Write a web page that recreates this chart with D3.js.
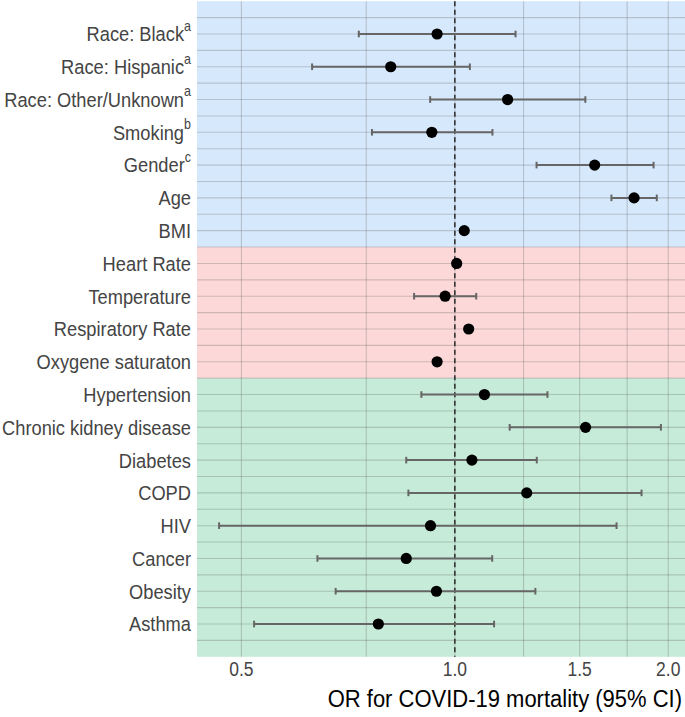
<!DOCTYPE html>
<html>
<head>
<meta charset="utf-8">
<script src="https://cdn.jsdelivr.net/npm/d3@7"></script>
<style>
html,body{margin:0;padding:0;background:#fff;}
svg{display:block;font-family:"Liberation Sans",Arial,Helvetica,sans-serif;}
</style>
</head>
<body>
<svg id="chart" width="685" height="717"></svg>
<script>
// ---- data ----
const labels = ["Race: Black","Race: Hispanic","Race: Other/Unknown","Smoking","Gender","Age","BMI",
  "Heart Rate","Temperature","Respiratory Rate","Oxygene saturaton",
  "Hypertension","Chronic kidney disease","Diabetes","COPD","HIV","Cancer","Obesity","Asthma"];
const superscripts = ["a","a","a","b","c","","","","","","","","","","","","","",""];
const groups = ["demo","demo","demo","demo","demo","demo","demo",
  "vital","vital","vital","vital",
  "comorb","comorb","comorb","comorb","comorb","comorb","comorb","comorb"];
const oddsRatio = [0.944,0.812,1.187,0.928,1.575,1.790,1.031,1.006,0.969,1.046,0.944,1.101,1.529,1.057,1.263,0.924,0.854,0.942,0.780];
const ciLow  = [0.732,0.629,0.923,0.764,1.304,1.663,1.021,1.000,0.876,1.036,0.936,0.897,1.195,0.854,0.860,0.465,0.640,0.679,0.521];
const ciHigh = [1.218,1.050,1.528,1.130,1.907,1.927,1.041,1.012,1.072,1.056,0.952,1.351,1.953,1.305,1.834,1.691,1.129,1.299,1.136];
const groupNames = ["demo","vital","comorb"];
const groupColors = ["#d6e8fb","#fdd8d8","#c6ebd8"];
const xTicks = [0.5,1.0,1.5,2.0];
const xMinor = [0.75,1.25,1.75];
const xTitle = "OR for COVID-19 mortality (95% CI)";

// ---- layout ----
const svg = d3.select("#chart");
const pLeft = 197, pRight = 683, pTop = 1.2, pBottom = 656.8;
const stretch = 1.12;

const lo = d3.min(ciLow), hi = d3.max(ciHigh);
const span = Math.log(hi/lo);
const x = d3.scaleLog()
  .domain([lo*Math.exp(-0.05*span), hi*Math.exp(0.05*span)])
  .range([pLeft, pRight]);
const y = d3.scalePoint().domain(labels).range([pTop, pBottom]).padding(1);
const step = y.step();

const rows = labels.map((l,i)=>({label:l,sup:superscripts[i],group:groups[i],or:oddsRatio[i],lo:ciLow[i],hi:ciHigh[i]}));

// background rects per group
const gColor = d3.scaleOrdinal().domain(groupNames).range(groupColors);
const bands = groupNames.map(g=>{
  const r = rows.filter(d=>d.group===g);
  return {g, y0:y(r[0].label)-step/2, y1:y(r[r.length-1].label)+step/2};
});
bands[0].y0 = pTop; bands[bands.length-1].y1 = pBottom;
svg.append("g").selectAll("rect").data(bands).join("rect")
  .attr("x", pLeft).attr("width", pRight-pLeft+2)
  .attr("y", d=>d.y0).attr("height", d=>d.y1-d.y0)
  .attr("fill", d=>gColor(d.g));

// grid
const grid = svg.append("g").attr("stroke","rgba(90,90,90,0.27)").attr("stroke-width",1.1);
const hLines = [];
labels.forEach(l=>{ hLines.push(y(l)); hLines.push(y(l)+step/2); });
hLines.push(y(labels[0])-step/2);
grid.selectAll("line.h").data(hLines).join("line").attr("class","h")
  .attr("x1",pLeft).attr("x2",pRight+2).attr("y1",d=>d).attr("y2",d=>d);
grid.selectAll("line.v").data(xTicks.concat(xMinor)).join("line").attr("class","v")
  .attr("x1",d=>x(d)).attr("x2",d=>x(d)).attr("y1",pTop).attr("y2",pBottom);

// reference line at 1
svg.append("line")
  .attr("x1",x(1)).attr("x2",x(1)).attr("y1",pTop).attr("y2",pBottom)
  .attr("stroke","#333").attr("stroke-width",1.6).attr("stroke-dasharray","5,3.5");

// error bars
const eb = svg.append("g").attr("stroke","#666").attr("stroke-width",2).attr("fill","none");
eb.selectAll("line.bar").data(rows).join("line").attr("class","bar")
  .attr("x1",d=>x(d.lo)).attr("x2",d=>x(d.hi)).attr("y1",d=>y(d.label)).attr("y2",d=>y(d.label));
eb.selectAll("line.capl").data(rows).join("line").attr("class","capl")
  .attr("x1",d=>x(d.lo)).attr("x2",d=>x(d.lo)).attr("y1",d=>y(d.label)-3.3).attr("y2",d=>y(d.label)+3.3);
eb.selectAll("line.caph").data(rows).join("line").attr("class","caph")
  .attr("x1",d=>x(d.hi)).attr("x2",d=>x(d.hi)).attr("y1",d=>y(d.label)-3.3).attr("y2",d=>y(d.label)+3.3);

// points
svg.append("g").selectAll("circle").data(rows).join("circle")
  .attr("cx",d=>x(d.or)).attr("cy",d=>y(d.label)).attr("r",5.6).attr("fill","#000");

// y labels
const yl = svg.append("g").selectAll("text").data(rows).join("text")
  .attr("transform",d=>`translate(191,${y(d.label)}) scale(1,${stretch})`)
  .attr("dy","0.36em")
  .attr("text-anchor","end").attr("fill","#444").attr("font-size",18.3);
yl.append("tspan").text(d=>d.label);
yl.filter(d=>d.sup).append("tspan").attr("font-size",12.5).attr("dy","-0.75em").text(d=>d.sup);

// x axis labels
svg.append("g").selectAll("text").data(xTicks).join("text")
  .attr("transform",d=>`translate(${x(d)},669) scale(1,${stretch})`)
  .attr("dy","0.36em")
  .attr("text-anchor","middle").attr("fill","#444").attr("font-size",17.5)
  .text(d=>d3.format(".1f")(d));

svg.append("text").attr("transform",`translate(682,707) scale(1,${stretch})`).attr("text-anchor","end")
  .attr("fill","#000").attr("font-size",22).text(xTitle);
</script>
</body>
</html>
